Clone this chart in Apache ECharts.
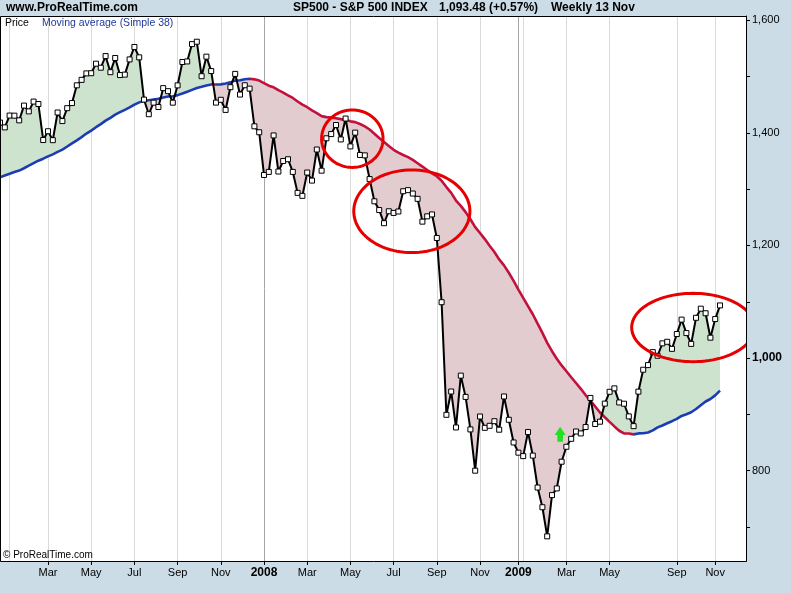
<!DOCTYPE html>
<html><head><meta charset="utf-8">
<script src="https://cdn.jsdelivr.net/npm/echarts@6/dist/echarts.min.js"></script>
<style>html,body{margin:0;padding:0;background:#cbdce6;}#c{width:791px;height:593px;}</style>
</head><body><div id="c"></div>
<script>
// Weekly closes, S&P 500 (29 Dec 2006 .. 13 Nov 2009)
const price = [1418.3,1409.7,1430.7,1430.5,1422.2,1448.4,1438.1,1455.5,1451.2,1387.2,
1402.8,1387.0,1436.1,1420.9,1443.8,1452.9,1484.4,1494.1,1505.6,1505.9,
1522.8,1515.7,1536.3,1507.7,1532.9,1502.6,1503.4,1530.4,1552.5,1534.1,
1459.0,1433.1,1453.6,1445.9,1479.4,1474.0,1453.6,1484.3,1525.8,1526.8,
1557.6,1561.8,1500.6,1535.3,1509.7,1453.7,1458.7,1440.7,1481.1,1504.7,
1468.0,1484.5,1478.5,1411.6,1401.0,1325.2,1330.6,1395.4,1331.3,1350.0,
1353.1,1330.6,1293.4,1288.1,1329.5,1315.2,1370.4,1332.8,1390.3,1397.8,
1413.9,1388.3,1425.4,1375.9,1400.4,1360.7,1360.0,1317.9,1278.4,1262.9,
1239.5,1260.7,1257.8,1260.3,1296.3,1298.2,1292.2,1282.8,1242.3,1251.7,
1255.1,1213.3,1099.2,899.2,940.6,876.8,968.8,931.0,873.3,800.0,
896.2,876.1,879.7,887.9,872.8,931.8,890.4,850.1,832.0,825.9,
868.6,826.8,770.1,735.1,683.4,756.6,768.5,815.9,842.5,856.6,
869.6,866.2,877.5,929.2,882.9,887.0,919.1,940.1,946.2,921.2,
918.9,896.4,879.1,940.4,979.3,987.5,1010.5,1004.1,1026.1,1028.9,
1016.4,1042.7,1068.3,1044.4,1025.2,1071.5,1087.7,1079.6,1036.2,1069.3,
1093.5];
// Moving average (Simple 38), read per week
const movingAvg = [1321.0,1324.2,1327.3,1330.5,1333.0,1337.1,1341.6,1346.2,1350.5,1354.1,
1358.1,1361.8,1366.2,1370.3,1375.7,1381.3,1386.7,1392.4,1398.7,1404.0,
1410.0,1415.4,1421.7,1426.6,1432.4,1436.7,1440.8,1445.1,1450.0,1454.1,
1456.6,1458.0,1459.3,1460.5,1462.7,1464.4,1465.1,1467.0,1469.8,1472.9,
1476.3,1479.7,1481.8,1484.1,1486.0,1485.9,1486.1,1487.5,1489.6,1492.7,
1493.5,1495.2,1496.1,1495.0,1492.8,1488.4,1483.8,1480.9,1475.8,1471.5,
1466.6,1462.0,1455.7,1450.0,1445.5,1439.8,1435.0,1429.7,1427.9,1427.0,
1425.9,1424.4,1423.0,1420.4,1419.0,1415.7,1411.4,1405.9,1398.5,1390.7,
1383.8,1376.6,1369.9,1364.9,1360.6,1356.8,1351.9,1346.0,1340.1,1334.0,
1328.1,1322.9,1314.9,1303.7,1293.4,1279.8,1270.3,1259.2,1246.6,1232.6,
1222.2,1211.3,1199.5,1188.3,1175.2,1164.6,1151.5,1137.1,1121.7,1106.9,
1092.3,1077.8,1061.2,1044.8,1027.0,1012.2,998.8,987.0,976.6,965.9,
955.7,945.4,934.3,924.6,913.9,903.4,894.9,886.7,878.6,870.9,
866.2,866.1,864.5,866.2,866.4,867.9,871.5,876.9,880.3,884.3,
887.9,892.0,897.2,900.1,903.7,909.5,916.2,922.9,927.3,933.7,
942.2];
// x tick positions (bar index) and labels
const tickIdx    = [10,19,28,37,46,55,64,73,82,91,100,108,118,127,141,149];
const tickLabels = ['Mar','May','Jul','Sep','Nov','2008','Mar','May','Jul','Sep','Nov','2009','Mar','May','Sep','Nov'];
const extraGridIdx = [2,109];
const yTickValues  = [700,800,900,1000,1100,1200,1300,1400,1500,1600];
const yLabelValues = [800,1000,1200,1400,1600];
// annotations (data coordinates)
const ellipseIdx  = [73.4, 85.8, 144.4];
const ellipseVal  = [1389.6, 1260.7, 1054.3];
const ellipseHalfBars = [6.4, 12.1, 12.8];
const ellipseHalfVal  = [51, 73.4, 60.7];
const arrowIdx = 116.7, arrowTop = 878, arrowBottom = 851.5;

const TOTAL_BARS = 156;
const categories = [];
(function(){ const d0 = Date.UTC(2006,11,29); for (let i=0;i<TOTAL_BARS;i++){ const d=new Date(d0+i*7*86400000); categories.push(d.toISOString().slice(0,10)); } })();

const BLUE = '#1c3cb4', RED = '#c4103c', GREEN_FILL = '#cde3cd', PINK_FILL = '#e2cccf';
const PLOT = {x:0, y:16, w:746, h:545};

// MA colour by slope
const pieces = [];
(function(){
  let start = 0, down = movingAvg[1] < movingAvg[0];
  for (let s = 2; s <= movingAvg.length; s++) {
    const d = s < movingAvg.length ? (movingAvg[s] < movingAvg[s-1]) : null;
    if (d !== down) { pieces.push({gt: start, lte: s-1, color: down ? RED : BLUE}); start = s-1; down = d; }
  }
  pieces[0].gt = -1; pieces[pieces.length-1].lte = 100000;
})();

const gridSet = new Set(tickIdx.concat(extraGridIdx));
const gridColors = [];
Array.from(gridSet).sort((a,b)=>a-b).forEach(i => {
  const k = tickIdx.indexOf(i);
  gridColors.push(k >= 0 && /^\d{4}$/.test(tickLabels[k]) ? '#a6a6a6' : '#d9d9d9');
});

function fmtNum(v){ return String(v).replace(/\B(?=(\d{3})+(?!\d))/g, ','); }
function px(api, idx, val){
  const i0 = Math.floor(idx), f = idx - i0;
  const a = api.coord([i0, val]), b = api.coord([i0+1, val]);
  return [a[0] + f*(b[0]-a[0]), a[1]];
}

const chart = echarts.init(document.getElementById('c'), null, {renderer:'canvas'});
chart.setOption({
  animation: false,
  backgroundColor: '#cbdce6',
  grid: {left: 0, top: 16, width: 744, height: 545},
  xAxis: {
    type: 'category', data: categories, boundaryGap: false,
    axisLine: {show: false},
    axisTick: {show: true, length: 4, interval: (i) => tickIdx.indexOf(i) >= 0, lineStyle: {color: '#000'}},
    axisLabel: {
      interval: (i) => tickIdx.indexOf(i) >= 0, margin: 6,
      color: '#000', fontSize: 11, fontFamily: '"Liberation Sans", Arial, sans-serif',
      formatter: (v, i) => { const k = tickIdx.indexOf(i); if (k < 0) return ''; const t = tickLabels[k]; return /^\d{4}$/.test(t) ? '{y|' + t + '}' : t; },
      rich: {y: {fontWeight: 'bold', fontSize: 12, color: '#000', fontFamily: '"Liberation Sans", Arial, sans-serif'}}
    },
    splitLine: {show: true, interval: (i) => gridSet.has(i), lineStyle: {color: gridColors, width: 1}}
  },
  yAxis: {
    type: 'value', position: 'right', offset: 2, min: 639.6, max: 1607.5, scale: true,
    axisLine: {show: true, lineStyle: {color: '#000'}},
    axisTick: {show: true, length: 4, customValues: yTickValues, lineStyle: {color: '#000'}},
    axisLabel: {
      customValues: yLabelValues, margin: 6, color: '#000', fontSize: 11,
      fontFamily: '"Liberation Sans", Arial, sans-serif',
      formatter: (v) => v === 1000 ? '{b|' + fmtNum(v) + '}' : fmtNum(v),
      rich: {b: {fontWeight: 'bold', fontSize: 12, color: '#000', fontFamily: '"Liberation Sans", Arial, sans-serif'}}
    },
    splitLine: {show: false}
  },
  visualMap: {show: false, type: 'piecewise', seriesIndex: 1, dimension: 0, pieces: pieces},
  series: [
    { // fill between price and MA
      type: 'custom', z: 1, silent: true, data: [[0, price[0]]],
      renderItem: function(params, api){
        if (params.dataIndex !== 0) return;
        const polys = [];
        const P = i => api.coord([i, price[i]]), M = i => api.coord([i, movingAvg[i]]);
        let up = [P(0)], lo = [M(0)], sign = Math.sign(price[0]-movingAvg[0]) || 1;
        for (let i = 0; i < price.length-1; i++) {
          const d0 = price[i]-movingAvg[i], d1 = price[i+1]-movingAvg[i+1];
          const s1 = Math.sign(d1) || sign;
          if (s1 !== sign) {
            const t = d0/(d0-d1);
            const a = P(i), b = P(i+1);
            const c = [a[0]+t*(b[0]-a[0]), a[1]+t*(b[1]-a[1])];
            up.push(c); lo.push(c);
            polys.push({pts: up.concat(lo.slice().reverse()), sign: sign});
            up = [c]; lo = [c]; sign = s1;
          }
          up.push(P(i+1)); lo.push(M(i+1));
        }
        polys.push({pts: up.concat(lo.slice().reverse()), sign: sign});
        return {type: 'group', children: polys.map(p => ({
          type: 'polygon', shape: {points: p.pts},
          style: {fill: p.sign > 0 ? GREEN_FILL : PINK_FILL, stroke: null}
        }))};
      }
    },
    { // moving average
      type: 'line', z: 3, data: movingAvg, showSymbol: false, symbol: 'none', silent: true,
      lineStyle: {width: 2.6}
    },
    { // price
      type: 'line', z: 5, data: price, symbol: 'rect', symbolSize: 5, showSymbol: true, showAllSymbol: true, silent: true,
      lineStyle: {color: '#000', width: 2},
      itemStyle: {color: '#fff', borderColor: '#000', borderWidth: 1}
    },
    { // annotations
      type: 'custom', z: 8, silent: true, data: [[0, price[0]]],
      renderItem: function(params, api){
        if (params.dataIndex !== 0) return;
        const kids = [];
        for (let k = 0; k < ellipseIdx.length; k++) {
          const c = px(api, ellipseIdx[k], ellipseVal[k]);
          const r = px(api, ellipseIdx[k] + ellipseHalfBars[k], ellipseVal[k]);
          const t = px(api, ellipseIdx[k], ellipseVal[k] + ellipseHalfVal[k]);
          const rx = r[0]-c[0], ry = c[1]-t[1];
          const pts = [];
          for (let j = 0; j < 96; j++) { const a = j/96*2*Math.PI; pts.push([c[0]+rx*Math.cos(a), c[1]+ry*Math.sin(a)]); }
          kids.push({type: 'polygon', shape: {points: pts}, style: {fill: null, stroke: '#e60000', lineWidth: 3}});
        }
        const tip = px(api, arrowIdx, arrowTop), bot = px(api, arrowIdx, arrowBottom);
        const h = bot[1]-tip[1], x = tip[0], y = tip[1];
        kids.push({type: 'polygon', shape: {points: [[x,y],[x+5.5,y+h*0.55],[x+2.8,y+h*0.55],[x+2.8,y+h],[x-2.8,y+h],[x-2.8,y+h*0.55],[x-5.5,y+h*0.55]]},
          style: {fill: '#22e022', stroke: null}});
        return {type: 'group', children: kids,
          clipPath: {type: 'rect', shape: {x: PLOT.x, y: PLOT.y, width: PLOT.w, height: PLOT.h}}};
      }
    }
  ],
  graphic: [
    {type: 'rect', z: -10, silent: true, shape: {x: 0, y: 16, width: 747, height: 545}, style: {fill: '#fff'}},
    {type: 'rect', z: 100, silent: true, shape: {x: 0.5, y: 16.5, width: 746, height: 545}, style: {fill: null, stroke: '#000', lineWidth: 1}},
    {type: 'text', z: 101, x: 6, y: 8, style: {text: 'www.ProRealTime.com', font: 'bold 12px "Liberation Sans", Arial, sans-serif', fill: '#000', verticalAlign: 'middle'}},
    {type: 'text', z: 101, x: 293, y: 8, style: {text: 'SP500 - S&P 500 INDEX', font: 'bold 12px "Liberation Sans", Arial, sans-serif', fill: '#000', verticalAlign: 'middle'}},
    {type: 'text', z: 101, x: 439, y: 8, style: {text: '1,093.48 (+0.57%)', font: 'bold 12px "Liberation Sans", Arial, sans-serif', fill: '#000', verticalAlign: 'middle'}},
    {type: 'text', z: 101, x: 551, y: 8, style: {text: 'Weekly 13 Nov', font: 'bold 12px "Liberation Sans", Arial, sans-serif', fill: '#000', verticalAlign: 'middle'}},
    {type: 'text', z: 101, x: 5, y: 23, style: {text: 'Price', font: '10.5px "Liberation Sans", Arial, sans-serif', fill: '#000', verticalAlign: 'middle'}},
    {type: 'text', z: 101, x: 42, y: 23, style: {text: 'Moving average (Simple 38)', font: '10.5px "Liberation Sans", Arial, sans-serif', fill: '#1f3a9c', verticalAlign: 'middle'}},
    {type: 'text', z: 101, x: 3, y: 555, style: {text: '\u00a9 ProRealTime.com', font: '10px "Liberation Sans", Arial, sans-serif', fill: '#000', verticalAlign: 'middle'}}
  ]
});
</script>
</body></html>
